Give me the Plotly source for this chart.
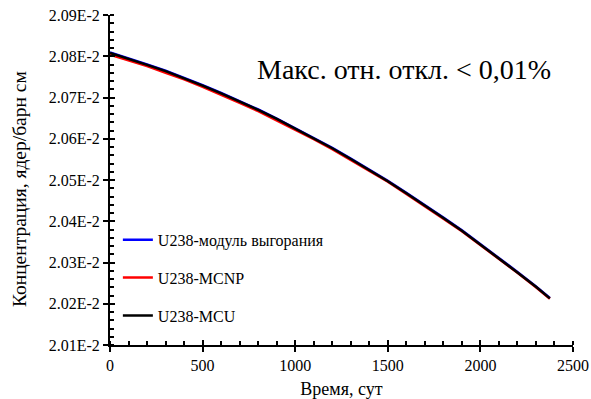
import plotly.graph_objects as go

# Time, days
time_days = [0, 100, 200, 300, 400, 500, 600, 700, 800, 900, 1000, 1100, 1200,
             1300, 1400, 1500, 1600, 1700, 1800, 1900, 2000, 2100, 2200, 2300, 2375]

# Concentration in units of 1E-2 nuclei/(barn*cm)
u238_mcu = [2.0808, 2.0794, 2.0779, 2.0764, 2.0747, 2.0729, 2.0710, 2.0690, 2.0670,
            2.0648, 2.0625, 2.0602, 2.0577, 2.0551, 2.0525, 2.0497, 2.0468, 2.0439,
            2.0408, 2.0377, 2.0344, 2.0311, 2.0276, 2.0241, 2.0213]
u238_module = [2.0809, 2.0795, 2.0780, 2.0765, 2.0748, 2.0730, 2.0711, 2.0691, 2.0671,
               2.0649, 2.0626, 2.0603, 2.0578, 2.0552, 2.0526, 2.0498, 2.0469, 2.0440,
               2.0409, 2.0378, 2.0345, 2.0312, 2.0277, 2.0242, 2.0214]
u238_mcnp = [2.0804, 2.0790, 2.0776, 2.0760, 2.0744, 2.0726, 2.0707, 2.0687, 2.0667,
             2.0645, 2.0623, 2.0599, 2.0575, 2.0549, 2.0522, 2.0496, 2.0466, 2.0437,
             2.0406, 2.0376, 2.0343, 2.0309, 2.0275, 2.0240, 2.0212]

y_tickvals = [2.01, 2.02, 2.03, 2.04, 2.05, 2.06, 2.07, 2.08, 2.09]
y_ticktext = ["2.01E-2", "2.02E-2", "2.03E-2", "2.04E-2", "2.05E-2",
              "2.06E-2", "2.07E-2", "2.08E-2", "2.09E-2"]
x_tickvals = [0, 500, 1000, 1500, 2000, 2500]

FONT = "Liberation Serif"

fig = go.Figure()
fig.add_trace(go.Scatter(x=time_days, y=u238_module, mode="lines",
                         name="U238-модуль выгорания", legendgroup="a",
                         line=dict(color="#0000ff", width=2.5)))
fig.add_trace(go.Scatter(x=time_days, y=u238_mcnp, mode="lines",
                         name="U238-MCNP", legendgroup="b",
                         line=dict(color="#ff0000", width=2.5)))
fig.add_trace(go.Scatter(x=time_days, y=u238_mcu, mode="lines",
                         name="U238-MCU", legendgroup="c",
                         line=dict(color="#000000", width=2.5)))
# helper trace for overlay axes (gives crossing major ticks)
fig.add_trace(go.Scatter(x=[None], y=[None], xaxis="x2", yaxis="y2",
                         showlegend=False, hoverinfo="skip"))

axis_common = dict(showgrid=False, zeroline=False, showline=True, automargin=False,
                   linecolor="black", linewidth=2, ticks="outside",
                   tickcolor="black", tickwidth=2, ticklen=5,
                   tickfont=dict(family=FONT, size=16, color="black"))

fig.update_layout(
    width=591, height=399,
    margin=dict(l=110, r=18, t=15, b=54),
    paper_bgcolor="white", plot_bgcolor="white",
    font=dict(family=FONT, size=16, color="black"),
    xaxis=dict(range=[0, 2500], tickvals=x_tickvals,
               minor=dict(dtick=100, ticks="inside", ticklen=4, tickwidth=1.5, tickcolor="black"),
               title=dict(text="Время, сут", font=dict(family=FONT, size=18)),
               **axis_common),
    yaxis=dict(range=[2.01, 2.09], tickvals=y_tickvals, ticktext=y_ticktext,
               minor=dict(dtick=0.002, ticks="inside", ticklen=4, tickwidth=1.5, tickcolor="black"),
               **axis_common),
    xaxis2=dict(range=[0, 2500], overlaying="x", anchor="y2", tickvals=x_tickvals,
                ticks="inside", ticklen=5, tickwidth=2, tickcolor="black", automargin=False,
                showticklabels=False, showgrid=False, zeroline=False, showline=False),
    yaxis2=dict(range=[2.01, 2.09], overlaying="y", anchor="x2", tickvals=y_tickvals,
                ticks="inside", ticklen=5, tickwidth=2, tickcolor="black", automargin=False,
                showticklabels=False, showgrid=False, zeroline=False, showline=False),
    legend=dict(x=0.017, y=0.37, xanchor="left", yanchor="top",
                bgcolor="rgba(0,0,0,0)", tracegroupgap=14,
                font=dict(family=FONT, size=16, color="black")),
    showlegend=True,
)

# y-axis title
fig.add_annotation(text="Концентрация, ядер/барн см", xref="paper", yref="paper",
                   x=-0.194, y=0.473, xanchor="center", yanchor="middle", textangle=-90,
                   showarrow=False, font=dict(family=FONT, size=19.5, color="black"))

fig.add_annotation(text="Макс. отн. откл. < 0,01%", xref="paper", yref="paper",
                   x=0.635, y=0.835, xanchor="center", yanchor="middle",
                   showarrow=False, font=dict(family=FONT, size=28, color="black"))

fig.write_html("out.html")
